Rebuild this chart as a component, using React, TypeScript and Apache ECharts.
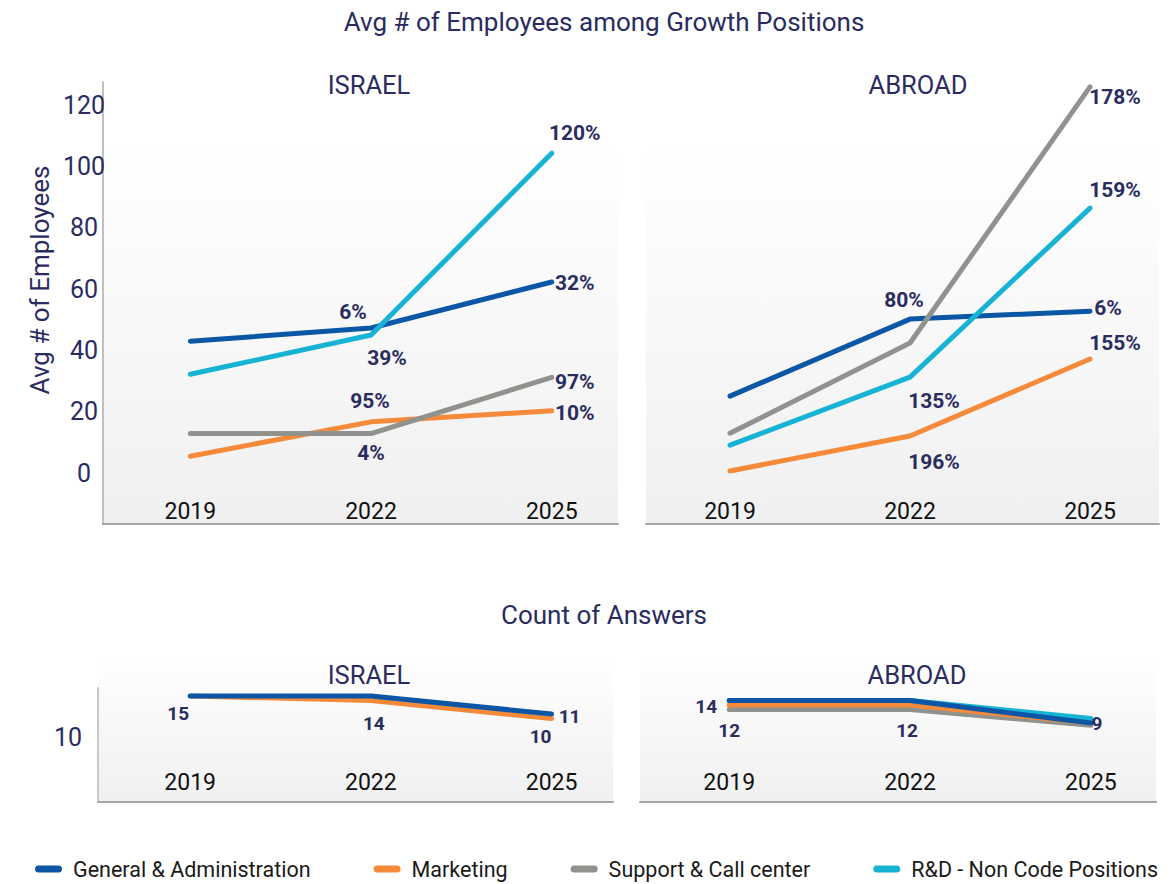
import React, { useEffect, useRef } from "react";
import * as echarts from "echarts";

// ---------- data ----------
const YEARS = [2019, 2022, 2025];
const NAMES = [
  "General & Administration",
  "Marketing",
  "Support & Call center",
  "R&D - Non Code Positions",
];
const COLORS = ["#0b57a5", "#f68a3b", "#8f928d", "#17b3d5"];

// Avg # of employees (top)
const ISRAEL_GA = [43.0, 47.3, 62.3];
const ISRAEL_MKT = [5.5, 16.7, 20.3];
const ISRAEL_SUP = [12.9, 12.9, 31.2];
const ISRAEL_RND = [32.2, 45.0, 104.3];
const ABROAD_GA = [25.1, 50.2, 52.8];
const ABROAD_MKT = [0.7, 12.1, 37.2];
const ABROAD_SUP = [13.0, 42.4, 125.9];
const ABROAD_RND = [9.1, 31.3, 86.4];

// growth labels (top)
const ISRAEL_GA_LBL = ["", "6%", "32%"];
const ISRAEL_MKT_LBL = ["", "95%", "10%"];
const ISRAEL_SUP_LBL = ["", "4%", "97%"];
const ISRAEL_RND_LBL = ["", "39%", "120%"];
const ABROAD_GA_LBL = ["", "80%", "6%"];
const ABROAD_MKT_LBL = ["", "196%", "155%"];
const ABROAD_SUP_LBL = ["", "", "178%"];
const ABROAD_RND_LBL = ["", "135%", "159%"];

// Count of answers (bottom)
const CNT_ISRAEL_GA = [15, 15, 11];
const CNT_ISRAEL_MKT = [15, 14, 10];
const CNT_ABROAD_GA = [14, 14, 9];
const CNT_ABROAD_MKT = [13, 13, 9];
const CNT_ABROAD_SUP = [12, 12, 8.5];
const CNT_ABROAD_RND = [14, 14, 10];

const CNT_ISRAEL_GA_LBL = ["15", "", "11"];
const CNT_ISRAEL_MKT_LBL = ["", "14", "10"];
const CNT_ABROAD_GA_LBL = ["14", "", "9"];
const CNT_ABROAD_MKT_LBL = ["", "", ""];
const CNT_ABROAD_SUP_LBL = ["12", "12", ""];
const CNT_ABROAD_RND_LBL = ["", "", ""];

const Y_TICKS = [0, 20, 40, 60, 80, 100, 120];
const CNT_TICKS = [10];

// ---------- styling / layout ----------
const NAVY = "#2a2c60";
const ROBOTO = "Roboto, 'Noto Sans', sans-serif";

// label offsets (px, from point) for each series / index
const OFF = {
  iGA: [null, [-18, -16], [23, 1]],
  iMKT: [null, [-1, -21], [23, 2]],
  iSUP: [null, [0, 19], [23, 5]],
  iRND: [null, [16, 23], [23, -20]],
  aGA: [null, [-6, -19], [18, -3]],
  aMKT: [null, [24, 26], [25, -16]],
  aSUP: [null, null, [25, 10]],
  aRND: [null, [24, 24], [25, -18]],
  ciGA: [[-12, 17], null, [18, 2]],
  ciMKT: [null, [3, 23], [-11, 18]],
  caGA: [[-23, 6], null, [6, 0]],
  caMKT: [null, null, null],
  caSUP: [[0, 21], [-3, 21], null],
  caRND: [null, null, null],
};

function mk(
  idx: number,
  values: number[],
  labels: string[],
  offs: any[],
  grid: number,
  lw: number,
  fs: number,
  z: number
) {
  return {
    type: "line",
    name: NAMES[idx],
    xAxisIndex: grid,
    yAxisIndex: grid,
    z,
    symbol: "circle",
    symbolSize: 1,
    showSymbol: true,
    itemStyle: { color: COLORS[idx] },
    lineStyle: { color: COLORS[idx], width: lw, cap: "round", join: "round" },
    emphasis: { disabled: true },
    data: values.map((v, i) => ({
      value: [YEARS[i], v],
      label: {
        show: labels[i] !== "",
        formatter: labels[i],
        position: "inside",
        offset: offs[i] || [0, 0],
        color: NAVY,
        fontFamily: ROBOTO,
        fontWeight: "bold",
        fontSize: fs,
        letterSpacing: -1,
      },
    })),
  };
}

function xAxisCfg(grid: number, min: number, max: number, margin: number) {
  return {
    type: "value",
    gridIndex: grid,
    min,
    max,
    axisLine: { show: true, onZero: false, lineStyle: { color: "#a5a5a5", width: 2 } },
    axisTick: { show: false },
    splitLine: { show: false },
    axisLabel: {
      inside: true,
      customValues: YEARS,
      formatter: (v: number) => String(v),
      color: "#111111",
      fontFamily: ROBOTO,
      fontSize: 23,
      verticalAlign: "middle",
      margin,
    },
  };
}

export default function App() {
  const ref = useRef<HTMLDivElement>(null);
  useEffect(() => {
    if (!ref.current) return;
    const chart = echarts.init(ref.current, null, { renderer: "svg" });
    const bgTop = new echarts.graphic.LinearGradient(0, 0, 0, 1, [
      { offset: 0, color: "#ffffff" },
      { offset: 0.15, color: "#ffffff" },
      { offset: 1, color: "#f0f0f0" },
    ]);
    const bgBot = new echarts.graphic.LinearGradient(0, 0, 0, 1, [
      { offset: 0, color: "#ffffff" },
      { offset: 1, color: "#f0f0f0" },
    ]);
    const txt = (x: number, y: number, t: string, size: number) => ({
      type: "text",
      x,
      y,
      style: {
        text: t,
        fill: NAVY,
        font: `${size}px ${ROBOTO}`,
        align: "center",
        verticalAlign: "middle",
      },
    });
    const option: any = {
      animation: false,
      backgroundColor: "#ffffff",
      graphic: {
        elements: [
          { type: "rect", z: -10, shape: { x: 103, y: 82, width: 515, height: 442 }, style: { fill: bgTop } },
          { type: "rect", z: -10, shape: { x: 646, y: 82, width: 513, height: 442 }, style: { fill: bgTop } },
          { type: "rect", z: -10, shape: { x: 98, y: 655, width: 515, height: 147 }, style: { fill: bgBot } },
          { type: "rect", z: -10, shape: { x: 640, y: 655, width: 516, height: 147 }, style: { fill: bgBot } },
          txt(604, 22, "Avg # of Employees among Growth Positions", 26),
          txt(369, 85, "ISRAEL", 25.5),
          txt(918, 85, "ABROAD", 25.5),
          txt(604, 615, "Count of Answers", 26),
          txt(369, 675, "ISRAEL", 25.5),
          txt(917, 675, "ABROAD", 25.5),
          {
            type: "text",
            x: 40,
            y: 280,
            rotation: Math.PI / 2,
            style: {
              text: "Avg # of Employees",
              fill: NAVY,
              font: `26px ${ROBOTO}`,
              align: "center",
              verticalAlign: "middle",
            },
          },
        ],
      },
      legend: {
        left: 30,
        top: 853,
        itemGap: 63,
        itemWidth: 27,
        itemHeight: 7,
        icon: "path://M3.5,0 H23.5 A3.5,3.5 0 0 1 23.5,7 H3.5 A3.5,3.5 0 0 1 3.5,0 Z",
        textStyle: { color: "#1a1a1a", fontFamily: ROBOTO, fontSize: 21.5, padding: [0, 0, 0, 6] },
        data: NAMES,
        selectedMode: false,
      },
      grid: [
        { left: 103, top: 82, width: 515, height: 442 },
        { left: 646, top: 82, width: 513, height: 442 },
        { left: 98, top: 688, width: 515, height: 114 },
        { left: 640, top: 688, width: 516, height: 114 },
      ],
      xAxis: [
        xAxisCfg(0, 2017.55, 2026.1, 13),
        xAxisCfg(1, 2017.6, 2026.15, 13),
        xAxisCfg(2, 2017.47, 2026.02, 20),
        xAxisCfg(3, 2017.52, 2026.08, 20),
      ],
      yAxis: [
        {
          type: "value",
          gridIndex: 0,
          min: -16.6,
          max: 127.5,
          axisLine: { show: true, onZero: false, lineStyle: { color: "#c0c0c0", width: 2 } },
          axisTick: { show: false },
          splitLine: { show: false },
          axisLabel: {
            customValues: Y_TICKS,
            align: "center",
            margin: 19,
            color: NAVY,
            fontFamily: ROBOTO,
            fontSize: 25,
          },
        },
        {
          type: "value",
          gridIndex: 1,
          min: -16.6,
          max: 127.5,
          axisLine: { show: false },
          axisTick: { show: false },
          splitLine: { show: false },
          axisLabel: { show: false },
        },
        {
          type: "value",
          gridIndex: 2,
          min: -8.56,
          max: 16.78,
          axisLine: { show: true, onZero: false, lineStyle: { color: "#c8c8c8", width: 2 } },
          axisTick: { show: false },
          splitLine: { show: false },
          axisLabel: {
            customValues: CNT_TICKS,
            align: "center",
            verticalAlign: "top",
            lineHeight: 37,
            margin: 30,
            color: NAVY,
            fontFamily: ROBOTO,
            fontSize: 25,
          },
        },
        {
          type: "value",
          gridIndex: 3,
          min: -8.56,
          max: 16.78,
          axisLine: { show: false },
          axisTick: { show: false },
          splitLine: { show: false },
          axisLabel: { show: false },
        },
      ],
      series: [
        mk(0, ISRAEL_GA, ISRAEL_GA_LBL, OFF.iGA, 0, 5, 21, 2),
        mk(1, ISRAEL_MKT, ISRAEL_MKT_LBL, OFF.iMKT, 0, 5, 21, 2),
        mk(2, ISRAEL_SUP, ISRAEL_SUP_LBL, OFF.iSUP, 0, 5, 21, 2),
        mk(3, ISRAEL_RND, ISRAEL_RND_LBL, OFF.iRND, 0, 5, 21, 2),
        mk(0, ABROAD_GA, ABROAD_GA_LBL, OFF.aGA, 1, 5, 21, 2),
        mk(1, ABROAD_MKT, ABROAD_MKT_LBL, OFF.aMKT, 1, 5, 21, 2),
        mk(2, ABROAD_SUP, ABROAD_SUP_LBL, OFF.aSUP, 1, 5, 21, 2),
        mk(3, ABROAD_RND, ABROAD_RND_LBL, OFF.aRND, 1, 5, 21, 2),
        mk(1, CNT_ISRAEL_MKT, CNT_ISRAEL_MKT_LBL, OFF.ciMKT, 2, 5, 19, 2),
        mk(0, CNT_ISRAEL_GA, CNT_ISRAEL_GA_LBL, OFF.ciGA, 2, 5, 19, 3),
        mk(2, CNT_ABROAD_SUP, CNT_ABROAD_SUP_LBL, OFF.caSUP, 3, 5, 19, 2),
        mk(1, CNT_ABROAD_MKT, CNT_ABROAD_MKT_LBL, OFF.caMKT, 3, 5, 19, 2),
        mk(3, CNT_ABROAD_RND, CNT_ABROAD_RND_LBL, OFF.caRND, 3, 5, 19, 2),
        mk(0, CNT_ABROAD_GA, CNT_ABROAD_GA_LBL, OFF.caGA, 3, 5, 19, 3),
      ],
    };
    chart.setOption(option);
    return () => chart.dispose();
  }, []);
  return (
    <div
      ref={ref}
      style={{ width: 1176, height: 884, position: "absolute", left: 0, top: 0 }}
    />
  );
}
